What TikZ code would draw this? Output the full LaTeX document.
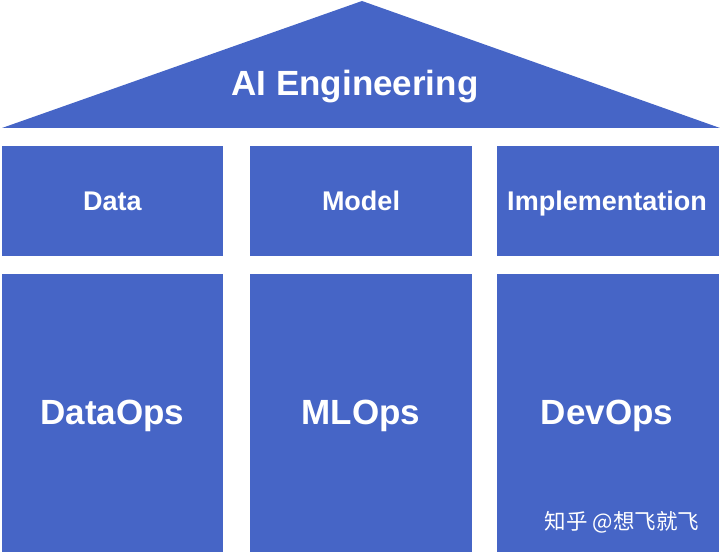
\documentclass[tikz,border=0pt]{standalone}
\usepackage{fontspec}
\setmainfont{Liberation Sans}
\newfontfamily\cjk{Noto Sans CJK SC}
\definecolor{pillar}{RGB}{70,101,198}
\begin{document}
\begin{tikzpicture}[x=1pt,y=-1pt,
  block/.style={fill=pillar,draw=none},
  lbl/.style={text=white,inner sep=0pt,anchor=base},
  big/.style={lbl,font=\fontsize{35}{40}\selectfont\bfseries},
  small/.style={lbl,font=\fontsize{27}{30}\selectfont\bfseries}]
\useasboundingbox (0,0) rectangle (720,553);
% roof
\fill[pillar] (2,128) -- (362,1) -- (720,128) -- cycle;
\node[big] (roof) at (355,96) {AI Engineering};
% top row
\fill[block] (2,146) rectangle (223,256);
\fill[block] (250,146) rectangle (472,256);
\fill[block] (497,146) rectangle (719,256);
\node[small] (data) at (112.5,211) {Data};
\node[small] (model) at (361,211) {Model};
\node[small] (impl) at (607,211) {Implementation};
% bottom row
\fill[block] (2,274) rectangle (223,552);
\fill[block] (250,274) rectangle (472,552);
\fill[block] (497,274) rectangle (719,552);
\node[big] (dataops) at (112.5,424) {DataOps};
\node[big] (mlops) at (361,424) {MLOps};
\node[big] (devops) at (607,424) {DevOps};
% watermark
\node[text=white,inner sep=0pt,font=\cjk\fontsize{21.5}{24}\selectfont] (wm) at (622,522) {知乎 @想飞就飞};
\end{tikzpicture}
\end{document}
